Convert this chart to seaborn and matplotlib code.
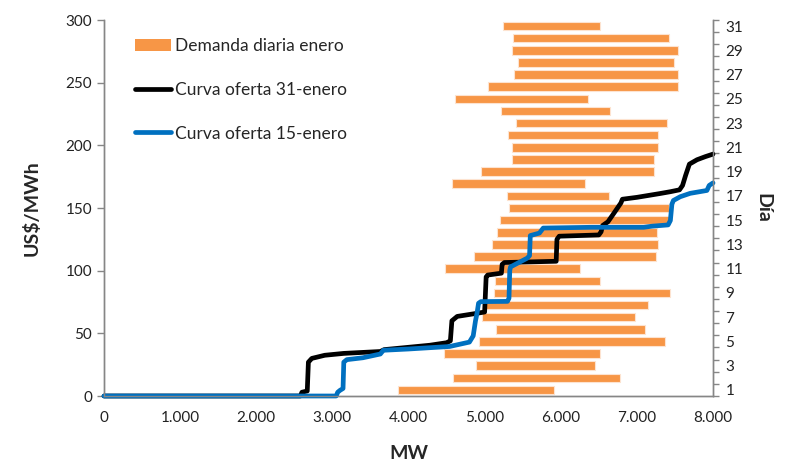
import numpy as np
import pandas as pd
import matplotlib
matplotlib.use("Agg")
import matplotlib.pyplot as plt
import seaborn as sns
from matplotlib.ticker import FuncFormatter
from matplotlib.patches import Patch
from matplotlib.lines import Line2D

# ---------------- data ----------------
days = list(range(1, 32))
demand_min = [3863, 4590, 4884, 4468, 4932, 5151, 4960, 4990, 5129, 5138,
              4481, 4862, 5098, 5168, 5200, 5326, 5291, 4573, 4954, 5361,
              5357, 5309, 5410, 5221, 4608, 5050, 5388, 5436, 5366, 5375, 5239]
demand_max = [5917, 6780, 6452, 6514, 7372, 7109, 6973, 7152, 7437, 6518,
              6251, 7254, 7276, 7263, 7430, 7420, 6632, 6316, 7227, 7227,
              7276, 7280, 7394, 6645, 6360, 7534, 7538, 7490, 7538, 7420, 6514]

supply31_mw = [0, 2580, 2600, 2670, 2685, 2730, 2900, 3150, 3630, 3680, 4280, 4500,
               4550, 4570, 4640, 4900, 5000, 5020, 5040, 5220, 5230, 5260, 5940,
               5950, 5980, 6500, 6530, 6550, 6620, 6700, 6790, 6810, 7000, 7300,
               7440, 7560, 7600, 7640, 7690, 7790, 7900, 8000]
supply31_price = [0, 0, 3, 4, 27, 30, 32.5, 34, 35.5, 37, 40.5, 42.5,
                  44, 60, 63.5, 66, 67, 95, 96.5, 98, 105, 106.5, 107.5,
                  125, 127.5, 128.5, 131, 136, 139, 146, 154, 157, 158.5, 161.5,
                  163, 164.5, 168, 176, 185, 188.5, 191, 193]

supply15_mw = [0, 3050, 3070, 3100, 3140, 3150, 3190, 3400, 3630, 3670, 4000, 4540,
               4800, 4850, 4880, 4900, 4920, 4950, 5300, 5320, 5330, 5340, 5560,
               5590, 5600, 5720, 5770, 6400, 7090, 7200, 7410, 7440, 7460, 7480,
               7570, 7700, 7920, 7950, 8000]
supply15_price = [0, 0, 3, 4.5, 6, 27, 29, 30.5, 33.5, 36.5, 37.5, 39.5,
                  43, 48, 60, 66, 74, 75.3, 75.5, 78, 100, 103, 110,
                  112, 128, 130, 134, 134.6, 134.6, 135.5, 136.5, 140, 153, 156,
                  159, 161.7, 164, 168, 170]

x_ticks = [0, 1000, 2000, 3000, 4000, 5000, 6000, 7000, 8000]
y_ticks = [0, 50, 100, 150, 200, 250, 300]
day_labels = list(range(1, 32, 2))

# ---------------- style ----------------
sns.set_theme(style="white")
plt.rcParams['font.family'] = ['Lato', 'DejaVu Sans']

ORANGE = '#F79646'
BLUE = '#0070C0'
GRAY = '#868686'

fig = plt.figure(figsize=(7.85, 4.62), dpi=100)
ax = fig.add_axes([104 / 785, 66 / 462, 609 / 785, 376 / 462])
ax2 = ax.twinx()

# bars on the secondary (day) axis, drawn beneath the curves
widths = np.array(demand_max) - np.array(demand_min)
ax2.barh(days, widths, left=demand_min, height=0.7, color=ORANGE,
         edgecolor='#FDE3D0', linewidth=0.8)
ax2.set_ylim(0.5, 31.5)
ax2.set_yticks(day_labels)
ax2.set_yticklabels([str(d) for d in day_labels], fontsize=11, color='#222222')
ax2.set_yticks(np.arange(0.5, 32, 1), minor=True)
ax2.tick_params(axis='y', which='major', length=0, pad=9)
ax2.tick_params(axis='y', which='minor', length=4, width=1, color=GRAY, direction='out')
ax2.set_ylabel('Día', fontsize=14, fontweight='bold', rotation=-90, labelpad=20)

# curves on primary axis (on top)
ax.set_zorder(ax2.get_zorder() + 1)
ax.patch.set_visible(False)

df31 = pd.DataFrame({'MW': supply31_mw, 'precio': supply31_price})
df15 = pd.DataFrame({'MW': supply15_mw, 'precio': supply15_price})
sns.lineplot(data=df31, x='MW', y='precio', ax=ax, sort=False, estimator=None,
             color='black', linewidth=3.4, legend=False, clip_on=False)
sns.lineplot(data=df15, x='MW', y='precio', ax=ax, sort=False, estimator=None,
             color=BLUE, linewidth=3.4, legend=False, clip_on=False)

ax.set_xlim(0, 8000)
ax.set_ylim(0, 300)
ax.set_xticks(x_ticks)
ax.set_yticks(y_ticks)
ax.xaxis.set_major_formatter(FuncFormatter(lambda v, p: f"{int(v):,}".replace(',', '.')))
ax.tick_params(axis='both', labelsize=11, colors=GRAY, labelcolor='#222222',
               length=5, width=1, direction='out')
ax.tick_params(axis='x', pad=6)
ax.set_xlabel('MW', fontsize=14, fontweight='bold', labelpad=14)
ax.set_ylabel('US$/MWh', fontsize=14, fontweight='bold', labelpad=18)

for a in (ax, ax2):
    a.spines['top'].set_visible(False)
    for s in ('left', 'bottom', 'right'):
        a.spines[s].set_color(GRAY)
        a.spines[s].set_linewidth(1)
ax.grid(False)
ax2.grid(False)

handles = [Patch(facecolor=ORANGE, edgecolor='none'),
           Line2D([0], [0], color='black', linewidth=3.4),
           Line2D([0], [0], color=BLUE, linewidth=3.4)]
labels = ['Demanda diaria enero', 'Curva oferta 31-enero', 'Curva oferta 15-enero']
leg = ax.legend(handles, labels, loc='upper left',
                bbox_to_anchor=(135 / 785, 1 - 38 / 462),
                bbox_transform=fig.transFigure, frameon=False,
                fontsize=12.5, handlelength=2.1, handletextpad=0.2,
                labelspacing=1.6, borderpad=0, borderaxespad=0)

fig.savefig('out.png', dpi=100)
